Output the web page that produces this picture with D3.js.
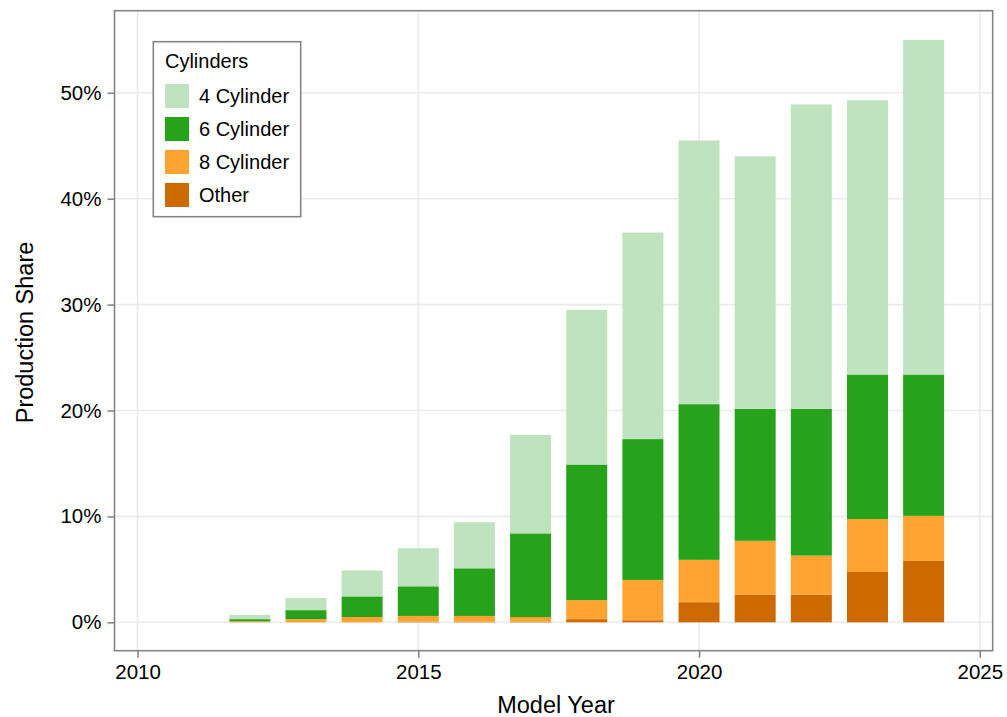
<!DOCTYPE html>
<html>
<head>
<meta charset="utf-8">
<script src="https://cdn.jsdelivr.net/npm/d3@7"></script>
<style>
  html, body { margin: 0; padding: 0; background: #fff; }
  svg { display: block; font-family: "Liberation Sans", Arial, sans-serif; }
</style>
</head>
<body>
<div id="chart"></div>
<script>
// Production share (%) by cylinder group, stacked
const years = [2012, 2013, 2014, 2015, 2016, 2017, 2018, 2019, 2020, 2021, 2022, 2023, 2024];
const other = [0, 0, 0, 0.05, 0.05, 0.05, 0.3, 0.2, 1.9, 2.6, 2.6, 4.75, 5.8];
const cyl8 = [0.1, 0.3, 0.5, 0.55, 0.55, 0.45, 1.8, 3.8, 4.0, 5.1, 3.7, 5.0, 4.25];
const cyl6 = [0.2, 0.85, 1.95, 2.8, 4.5, 7.9, 12.8, 13.3, 14.7, 12.45, 13.85, 13.65, 13.35];
const cyl4 = [0.4, 1.15, 2.45, 3.6, 4.35, 9.3, 14.6, 19.5, 24.9, 23.85, 28.75, 25.9, 31.6];

const seriesNames = ['Other', '8 Cylinder', '6 Cylinder', '4 Cylinder'];
const seriesColors = ['#cc6a00', '#ffa331', '#26a31b', '#c0e3bf'];
const legendOrder = ['4 Cylinder', '6 Cylinder', '8 Cylinder', 'Other'];
const xTicks = [2010, 2015, 2020, 2025];
const yTicks = [0, 10, 20, 30, 40, 50];

const W = 1007, H = 717;
const panel = { left: 114.5, top: 10.7, right: 992.7, bottom: 650.7 };

const rows = years.map((y, i) => ({
    year: y,
    'Other': other[i],
    '8 Cylinder': cyl8[i],
    '6 Cylinder': cyl6[i],
    '4 Cylinder': cyl4[i]
}));

const stacked = d3.stack().keys(seriesNames)(rows);
const color = d3.scaleOrdinal().domain(seriesNames).range(seriesColors);

const x = d3.scaleLinear()
    .domain([2009.59, 2025.23])
    .range([panel.left, panel.right]);

const y = d3.scaleLinear()
    .domain([-2.68, 57.75])
    .range([panel.bottom, panel.top]);

const barW = 0.73;

const svg = d3.select('#chart').append('svg')
    .attr('width', W)
    .attr('height', H);

// -------- Grid --------
const grid = svg.append('g');
grid.selectAll('line.gx')
    .data(xTicks)
    .join('line')
    .attr('x1', d => x(d)).attr('x2', d => x(d))
    .attr('y1', panel.top).attr('y2', panel.bottom)
    .attr('stroke', '#ebebeb').attr('stroke-width', 1.6);
grid.selectAll('line.gy')
    .data(yTicks)
    .join('line')
    .attr('x1', panel.left).attr('x2', panel.right)
    .attr('y1', d => y(d)).attr('y2', d => y(d))
    .attr('stroke', '#ebebeb').attr('stroke-width', 1.6);

// -------- Bars --------
svg.append('g')
    .selectAll('g')
    .data(stacked)
    .join('g')
    .attr('fill', d => color(d.key))
    .selectAll('rect')
    .data(d => d)
    .join('rect')
    .attr('x', d => x(d.data.year - barW / 2))
    .attr('width', d => x(d.data.year + barW / 2) - x(d.data.year - barW / 2))
    .attr('y', d => y(d[1]))
    .attr('height', d => Math.max(0, y(d[0]) - y(d[1])));

// -------- Panel border --------
svg.append('rect')
    .attr('x', panel.left).attr('y', panel.top)
    .attr('width', panel.right - panel.left)
    .attr('height', panel.bottom - panel.top)
    .attr('fill', 'none')
    .attr('stroke', '#858585')
    .attr('stroke-width', 1.6);

// -------- Axes --------
const xAxis = svg.append('g')
    .attr('transform', `translate(0,${panel.bottom})`)
    .call(d3.axisBottom(x).tickValues(xTicks).tickSize(7).tickPadding(7).tickFormat(d3.format('d')));
const yAxis = svg.append('g')
    .attr('transform', `translate(${panel.left},0)`)
    .call(d3.axisLeft(y).tickValues(yTicks).tickSize(7).tickPadding(6).tickFormat(d => d + '%'));

[xAxis, yAxis].forEach(g => {
    g.select('.domain').remove();
    g.selectAll('.tick line').attr('stroke', '#858585').attr('stroke-width', 1.6);
    g.selectAll('.tick text')
        .attr('fill', '#000')
        .attr('font-size', 20.5)
        .attr('font-family', '"Liberation Sans", Arial, sans-serif');
});

// -------- Axis titles --------
svg.append('text')
    .attr('x', 556)
    .attr('y', 713)
    .attr('text-anchor', 'middle')
    .attr('font-size', 23.5)
    .text('Model Year');

svg.append('text')
    .attr('transform', `translate(33,332.5) rotate(-90)`)
    .attr('text-anchor', 'middle')
    .attr('font-size', 23.5)
    .text('Production Share');

// -------- Legend --------
const legend = svg.append('g').attr('transform', 'translate(153.3,41.7)');
legend.append('rect')
    .attr('width', 147.4)
    .attr('height', 175)
    .attr('fill', '#fff')
    .attr('stroke', '#858585')
    .attr('stroke-width', 1.6);
legend.append('text')
    .attr('x', 11.7)
    .attr('y', 26)
    .attr('font-size', 20)
    .text('Cylinders');

const items = legend.selectAll('g.item')
    .data(legendOrder)
    .join('g')
    .attr('transform', (d, i) => `translate(11.7,${42.3 + i * 33})`);
items.append('rect')
    .attr('width', 24)
    .attr('height', 24)
    .attr('fill', d => color(d));
items.append('text')
    .attr('x', 34)
    .attr('y', 12)
    .attr('dy', '0.35em')
    .attr('font-size', 20)
    .text(d => d);
</script>
</body>
</html>
